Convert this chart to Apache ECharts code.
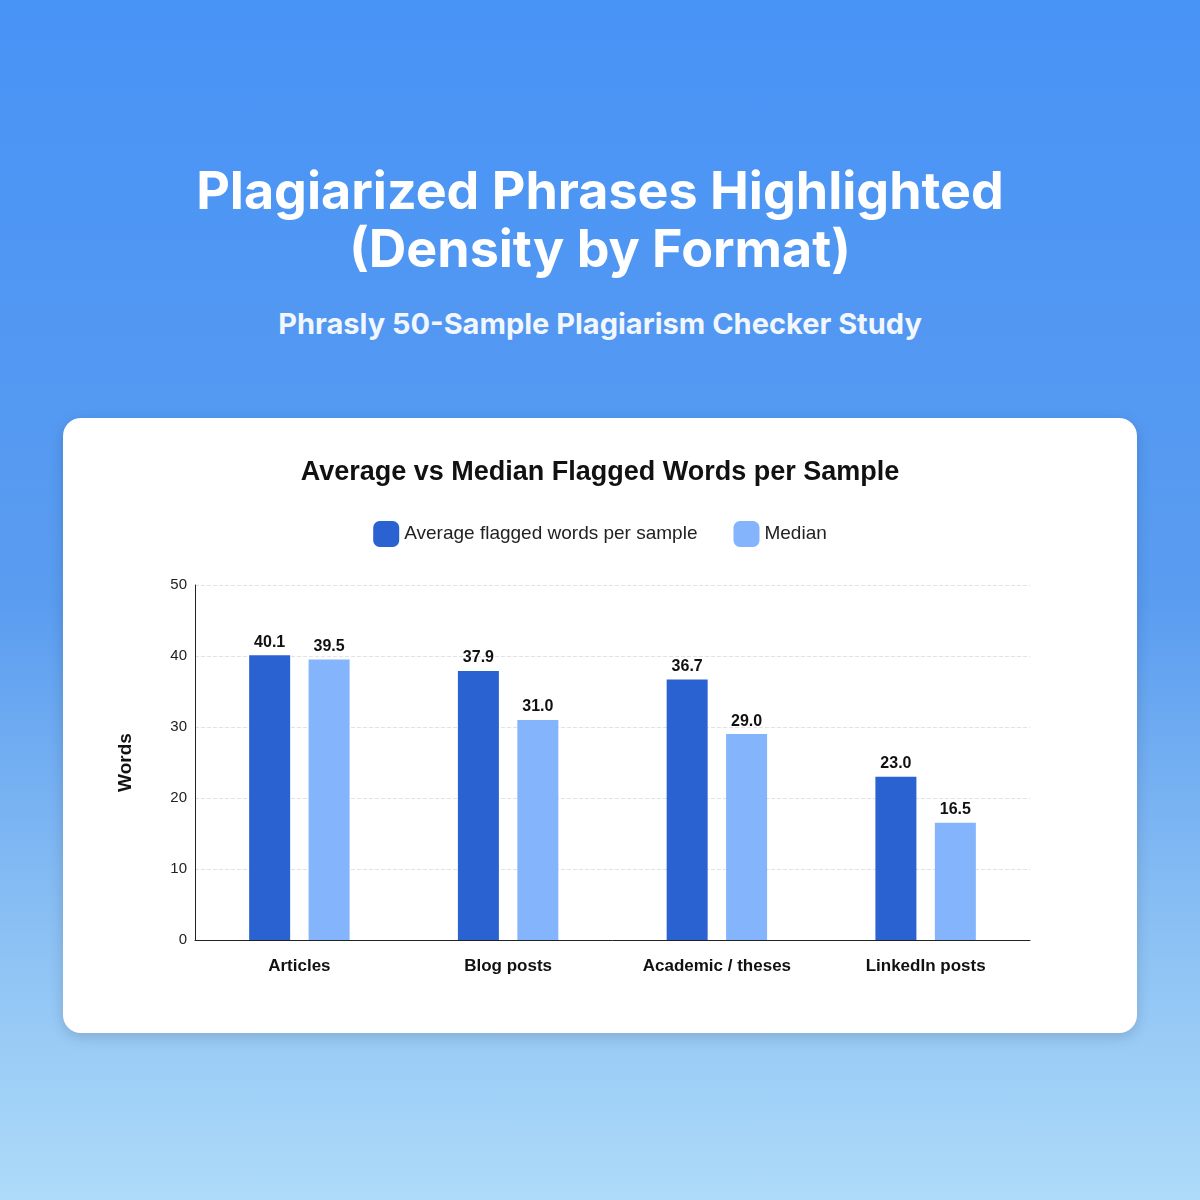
<!DOCTYPE html>
<html><head><meta charset="utf-8">
<script src="https://cdn.jsdelivr.net/npm/echarts@6/dist/echarts.min.js"></script>
<style>
html,body{margin:0;padding:0;width:1200px;height:1200px;overflow:hidden;font-family:Inter,"Noto Sans",sans-serif}
body{background:linear-gradient(#4893f6 0%,#5a9cf0 50%,#86bdf3 75%,#aedbf9 100%)}
h1{position:absolute;top:162px;left:0;width:1200px;margin:0;text-align:center;color:#fff;font-size:52px;font-weight:700;line-height:58px}
h2{position:absolute;top:306px;left:0;width:1200px;margin:0;text-align:center;color:#fff;font-size:29px;font-weight:700;opacity:.93}
#card{position:absolute;left:63px;top:418px;width:1074px;height:615px;background:#fff;border-radius:18px;box-shadow:0 4px 14px rgba(0,0,0,.15)}
#c{position:absolute;left:0;top:0;width:1074px;height:615px}
</style></head><body>
<h1>Plagiarized Phrases Highlighted<br>(Density by Format)</h1>
<h2>Phrasly 50-Sample Plagiarism Checker Study</h2>
<div id="card"><div id="c"></div></div>
<script>
const categories=["Articles","Blog posts","Academic / theses","LinkedIn posts"];
const averageValues=[40.1,37.9,36.7,23.0];
const medianValues=[39.5,31.0,29.0,16.5];
const chart=echarts.init(document.getElementById('c'));
const lbl={show:true,position:'top',color:'#111',fontWeight:700,fontSize:16,formatter:p=>p.value.toFixed(1)};
chart.setOption({
 title:{text:'Average vs Median Flagged Words per Sample',left:'center',top:36,textStyle:{fontSize:27,fontWeight:700,color:'#111'}},
 legend:{top:98,left:'center',itemWidth:26,itemHeight:26,itemGap:36,textStyle:{fontSize:19,color:'#222'},data:['Average flagged words per sample','Median']},
 grid:{left:132,right:107,top:167,bottom:93},
 xAxis:{type:'category',data:categories,axisTick:{show:false},axisLine:{lineStyle:{color:'#222'}},axisLabel:{fontSize:17,fontWeight:700,color:'#111',margin:18}},
 yAxis:{type:'value',min:0,max:50,interval:10,name:'Words',nameLocation:'middle',nameGap:60,nameTextStyle:{fontSize:19,fontWeight:700,color:'#111'},
  axisLine:{show:true,lineStyle:{color:'#222'}},axisLabel:{fontSize:15,color:'#222'},splitLine:{lineStyle:{type:'dashed',color:'#e2e2e2'}}},
 series:[
  {name:'Average flagged words per sample',type:'bar',data:averageValues,itemStyle:{color:'#2a62d2'},barWidth:41,barGap:'45%',label:lbl},
  {name:'Median',type:'bar',data:medianValues,itemStyle:{color:'#84b4fb'},barWidth:41,label:lbl}
 ]
});
</script></body></html>
